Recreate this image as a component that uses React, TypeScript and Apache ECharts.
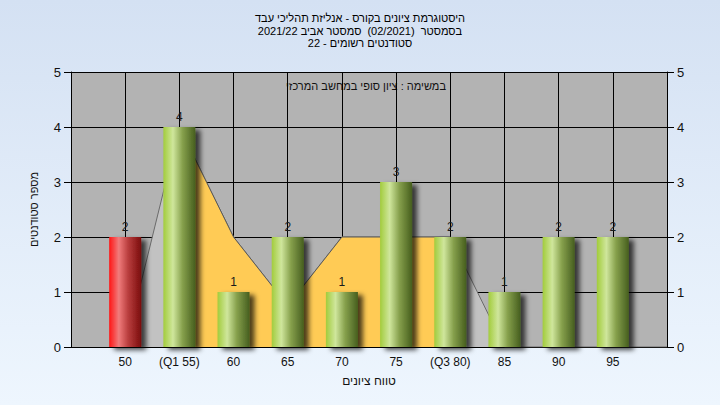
import React, { useEffect, useRef } from "react";
import * as echarts from "echarts";

const titleLines = [
  "היסטוגרמת ציונים בקורס - אנליזת תהליכי עבד",
  "בסמסטר  (02/2021)  סמסטר אביב 2021/22",
  "סטודנטים רשומים - 22",
];
const noteText = "במשימה : ציון סופי במחשב המרכזי";
const xAxisName = "טווח ציונים";
const yAxisName = "מספר סטודנטים";

const gradeBins = [50, 55, 60, 65, 70, 75, 80, 85, 90, 95];
const binLabels = ["50", "(Q1 55)", "60", "65", "70", "75", "(Q3 80)", "85", "90", "95"];
const studentCounts = [2, 4, 1, 2, 1, 3, 2, 1, 2, 2];

const trendX = [50, 55, 60, 65, 70, 75, 80, 85, 90, 95, 100];
const trendY = [0, 4, 2, 0.75, 2, 2, 2, 0, 0, 0, 0];
const q1 = 55;
const q3 = 80;

const FONT = "'Liberation Sans', Arial, 'DejaVu Sans', sans-serif";

const grad = (c0: string, c1: string, c2: string, c3: string) =>
  new echarts.graphic.LinearGradient(0, 0, 1, 0, [
    { offset: 0, color: c0 },
    { offset: 0.3, color: c1 },
    { offset: 0.6, color: c2 },
    { offset: 1, color: c3 },
  ]);

export default function App() {
  const ref = useRef<HTMLDivElement>(null);
  useEffect(() => {
    if (!ref.current) return;
    const chart = echarts.init(ref.current, undefined, { renderer: "svg" });
    const red = grad("#ff1414", "#f07c7c", "#b83c3c", "#7a0c0c");
    const green = grad("#a2cc3c", "#cfe69c", "#86a04c", "#465e1e");
    const barData = gradeBins.map((g, i) => ({
      value: [g, studentCounts[i]],
      itemStyle: { color: i === 0 ? red : green },
    }));
    const full = trendX.map((x, i) => [x, trendY[i]]);
    const mid = trendX
      .map((x, i) => [x, trendY[i]])
      .filter((p) => p[0] >= q1 && p[0] <= q3);
    chart.setOption({
      animation: false,
      backgroundColor: "transparent",
      textStyle: { fontFamily: FONT },
      title: {
        text: titleLines.join("\n"),
        left: "center",
        top: 12,
        padding: 0,
        textStyle: {
          fontSize: 11,
          fontWeight: "normal",
          color: "#000",
          lineHeight: 12.5,
          fontFamily: FONT,
        },
      },
      grid: {
        left: 71,
        right: 53,
        top: 72,
        bottom: 58,
        show: true,
        backgroundColor: "#b3b3b3",
        borderWidth: 0,
      },
      graphic: [
        {
          type: "text",
          right: 720 - 446,
          top: 80,
          style: {
            text: noteText,
            fontSize: 11,
            fill: "#111",
            fontFamily: FONT,
          },
        },
      ],
      xAxis: {
        type: "value",
        min: 45,
        max: 100,
        interval: 5,
        name: xAxisName,
        nameLocation: "middle",
        nameGap: 28,
        nameTextStyle: { fontSize: 12, color: "#111", fontFamily: FONT },
        axisLine: { show: true, lineStyle: { color: "#000", width: 1 } },
        axisTick: { show: false },
        axisLabel: {
          margin: 9,
          fontSize: 12,
          color: "#111",
          fontFamily: FONT,
          showMinLabel: true,
          showMaxLabel: true,
          formatter: (v: number) => {
            const i = gradeBins.indexOf(v);
            return i >= 0 ? binLabels[i] : "";
          },
        },
        splitLine: { show: true, lineStyle: { color: "#000", width: 1 } },
      },
      yAxis: [
        {
          type: "value",
          min: 0,
          max: 5,
          interval: 1,
          position: "left",
          name: yAxisName,
          nameLocation: "middle",
          nameGap: 32,
          nameRotate: 90,
          nameTextStyle: { fontSize: 11, color: "#111", fontFamily: FONT },
          axisLine: { show: true, lineStyle: { color: "#000", width: 1 } },
          axisTick: { show: true, length: 7, lineStyle: { color: "#000" } },
          axisLabel: { margin: 10, fontSize: 13, color: "#111", fontFamily: FONT },
          splitLine: { show: true, lineStyle: { color: "#000", width: 1 } },
        },
        {
          type: "value",
          min: 0,
          max: 5,
          interval: 1,
          position: "right",
          axisLine: { show: true, lineStyle: { color: "#000", width: 1 } },
          axisTick: { show: true, length: 7, lineStyle: { color: "#000" } },
          axisLabel: { margin: 10, fontSize: 13, color: "#111", fontFamily: FONT },
          splitLine: { show: false },
        },
      ],
      series: [
        {
          type: "line",
          data: full,
          showSymbol: false,
          symbol: "none",
          lineStyle: { color: "#6a6a6a", width: 1 },
          areaStyle: { color: "#c2c2c2", opacity: 1 },
          z: 2,
        },
        {
          type: "line",
          data: mid,
          showSymbol: false,
          symbol: "none",
          lineStyle: { color: "#5a5a5a", width: 1 },
          areaStyle: { color: "#ffcb55", opacity: 1 },
          z: 3,
        },
        {
          type: "bar",
          data: barData,
          barWidth: 32,
          z: 4,
          itemStyle: {
            shadowColor: "rgba(0,0,0,0.7)",
            shadowBlur: 5,
            shadowOffsetX: 5,
            shadowOffsetY: 3,
          },
          label: {
            show: true,
            position: "top",
            distance: 4,
            fontSize: 12,
            color: "#1a1a1a",
            fontFamily: FONT,
          },
        },
      ],
    });
    return () => chart.dispose();
  }, []);
  return (
    <div
      style={{
        position: "fixed",
        left: 0,
        top: 0,
        width: 720,
        height: 405,
        background: "linear-gradient(#d4e1f3, #eef6fe)",
      }}
    >
      <div ref={ref} style={{ width: 720, height: 405 }} />
    </div>
  );
}
